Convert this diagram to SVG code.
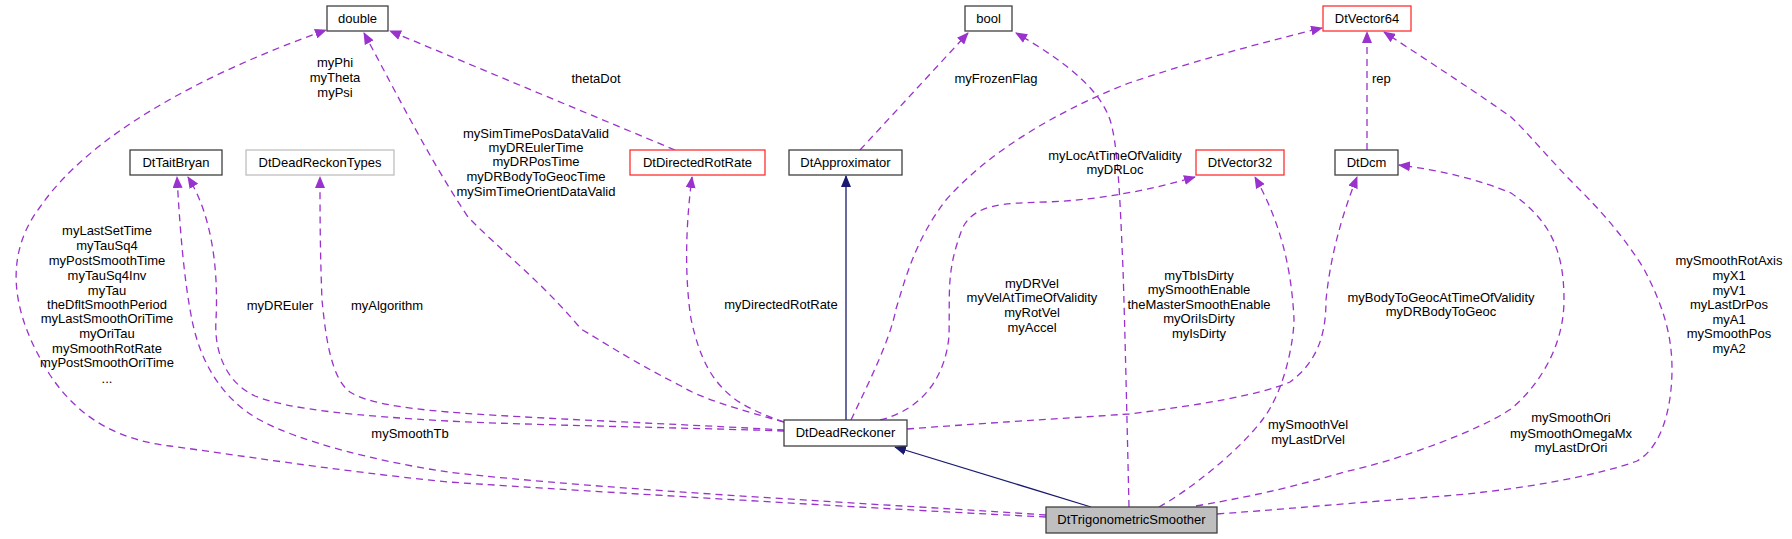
<svg xmlns="http://www.w3.org/2000/svg" width="1792" height="539" viewBox="0 0 1792 539">
<style>
text{font-family:"Liberation Sans",Arial,sans-serif;font-size:13px;fill:#000}
.n text{text-anchor:middle}
.box{fill:#fff;stroke:#404040;stroke-width:1.3}
.red{fill:#fff;stroke:#ff3030;stroke-width:1.3}
.gray{fill:#fff;stroke:#bfbfbf;stroke-width:1.3}
.cur{fill:#bfbfbf;stroke:#404040;stroke-width:1.3}
.e{fill:none;stroke:#9a32cd;stroke-width:1.3;stroke-dasharray:7,5;marker-end:url(#ap)}
.i{fill:none;stroke:#191970;stroke-width:1.3;marker-end:url(#ab)}
.l{text-anchor:middle}
</style>
<defs>
<marker id="ap" viewBox="0 0 12 10" refX="11" refY="5" markerWidth="12" markerHeight="10" markerUnits="userSpaceOnUse" orient="auto"><path d="M0,0 L12,5 L0,10 z" fill="#9a32cd"/></marker>
<marker id="ab" viewBox="0 0 12 10" refX="11" refY="5" markerWidth="12" markerHeight="10" markerUnits="userSpaceOnUse" orient="auto"><path d="M0,0 L12,5 L0,10 z" fill="#191970"/></marker>
</defs>
<rect width="1792" height="539" fill="#fff"/>
<g id="edges">
<path class="e" d="M1046,517 C900,510 600,492 448,482 C330,470 230,454 170,446 C120,440 80,420 50,375 C15,320 0,260 40,207 C90,135 200,75 326,30"/>
<path class="e" d="M1046,515 C900,505 600,490 448,472 C380,462 300,442 260,420 C220,398 200,360 192,320 C184,280 180,230 177,177"/>
<path class="e" d="M784,431 C700,428 520,425 448,421 C360,416 290,410 255,396 C225,382 214,350 216,320 C218,280 215,220 188,177"/>
<path class="e" d="M784,430 C700,425 520,418 448,412 C400,408 365,402 350,392 C330,378 325,330 322,300 C320,250 320,210 320,177"/>
<path class="e" d="M784,422 C740,410 700,398 681,386 C630,360 600,340 581,329 C540,280 500,250 468,217 C430,160 400,100 364,33"/>
<path class="e" d="M675,150 L390,31"/>
<path class="e" d="M784,422 C760,414 740,404 731,396 C712,380 700,360 691,319 C685,280 685,230 692,177"/>
<path class="i" d="M846,420 L846,176"/>
<path class="i" d="M1091,507 L895,447"/>
<path class="e" d="M860,150 L968,33"/>
<path class="e" d="M1129,507 C1127,420 1125,330 1123,269 C1120,200 1118,140 1109,117 C1100,95 1080,70 1016,33"/>
<path class="e" d="M851,420 C870,380 890,340 896,309 C905,280 915,240 946,200 C990,150 1060,110 1129,83 C1180,66 1250,45 1322,28"/>
<path class="e" d="M880,420 C920,410 945,380 949,336 C950,290 946,270 963,227 C975,205 1000,203 1046,202 C1100,200 1150,190 1195,177"/>
<path class="e" d="M1159,507 C1190,490 1240,450 1263,419 C1285,390 1294,340 1294,319 C1292,280 1285,230 1255,177"/>
<path class="e" d="M907,429 C1000,422 1100,416 1129,414 C1200,405 1260,395 1290,382 C1320,360 1326,330 1326,300 C1330,260 1340,220 1357,177"/>
<path class="e" d="M1196,506 C1260,495 1300,485 1344,472 C1400,460 1480,430 1511,409 C1545,380 1564,340 1564,300 C1564,250 1550,220 1511,193 C1480,180 1440,170 1399,165"/>
<path class="e" d="M1217,514 C1300,508 1350,503 1444,496 C1520,490 1600,475 1637,461 C1665,445 1672,400 1672,369 C1672,330 1660,300 1644,269 C1620,230 1590,200 1577,187 C1550,160 1530,135 1511,117 C1480,95 1430,62 1384,32"/>
<path class="e" d="M1367,150 L1367,32"/>
</g>
<g id="labels">
<text class="l" x="335" y="67">myPhi</text>
<text class="l" x="335" y="82">myTheta</text>
<text class="l" x="335" y="97">myPsi</text>
<text class="l" x="596" y="83">thetaDot</text>
<text class="l" x="996" y="83">myFrozenFlag</text>
<text x="1372" y="83">rep</text>
<text class="l" x="536" y="138">mySimTimePosDataValid</text>
<text class="l" x="536" y="152">myDREulerTime</text>
<text class="l" x="536" y="166">myDRPosTime</text>
<text class="l" x="536" y="181">myDRBodyToGeocTime</text>
<text class="l" x="536" y="196">mySimTimeOrientDataValid</text>
<text class="l" x="1115" y="160">myLocAtTimeOfValidity</text>
<text class="l" x="1115" y="174">myDRLoc</text>
<text class="l" x="107" y="235">myLastSetTime</text>
<text class="l" x="107" y="250">myTauSq4</text>
<text class="l" x="107" y="265">myPostSmoothTime</text>
<text class="l" x="107" y="280">myTauSq4Inv</text>
<text class="l" x="107" y="295">myTau</text>
<text class="l" x="107" y="309">theDfltSmoothPeriod</text>
<text class="l" x="107" y="323">myLastSmoothOriTime</text>
<text class="l" x="107" y="338">myOriTau</text>
<text class="l" x="107" y="353">mySmoothRotRate</text>
<text class="l" x="107" y="367">myPostSmoothOriTime</text>
<text class="l" x="107" y="383">...</text>
<text class="l" x="280" y="310">myDREuler</text>
<text class="l" x="387" y="310">myAlgorithm</text>
<text class="l" x="410" y="438">mySmoothTb</text>
<text class="l" x="781" y="309">myDirectedRotRate</text>
<text class="l" x="1032" y="288">myDRVel</text>
<text class="l" x="1032" y="302">myVelAtTimeOfValidity</text>
<text class="l" x="1032" y="317">myRotVel</text>
<text class="l" x="1032" y="332">myAccel</text>
<text class="l" x="1199" y="280">myTbIsDirty</text>
<text class="l" x="1199" y="294">mySmoothEnable</text>
<text class="l" x="1199" y="309">theMasterSmoothEnable</text>
<text class="l" x="1199" y="323">myOriIsDirty</text>
<text class="l" x="1199" y="338">myIsDirty</text>
<text class="l" x="1308" y="429">mySmoothVel</text>
<text class="l" x="1308" y="444">myLastDrVel</text>
<text class="l" x="1441" y="302">myBodyToGeocAtTimeOfValidity</text>
<text class="l" x="1441" y="316">myDRBodyToGeoc</text>
<text class="l" x="1571" y="422">mySmoothOri</text>
<text class="l" x="1571" y="438">mySmoothOmegaMx</text>
<text class="l" x="1571" y="452">myLastDrOri</text>
<text class="l" x="1729" y="265">mySmoothRotAxis</text>
<text class="l" x="1729" y="280">myX1</text>
<text class="l" x="1729" y="295">myV1</text>
<text class="l" x="1729" y="309">myLastDrPos</text>
<text class="l" x="1729" y="324">myA1</text>
<text class="l" x="1729" y="338">mySmoothPos</text>
<text class="l" x="1729" y="353">myA2</text>
</g>
<g id="double" class="n"><rect class="box" x="327" y="6" width="61" height="25"/><text x="357.5" y="23">double</text></g>
<g id="bool" class="n"><rect class="box" x="965" y="6" width="47" height="25"/><text x="988.5" y="23">bool</text></g>
<g id="DtVector64" class="n"><rect class="red" x="1323" y="6" width="88" height="25"/><text x="1367" y="23">DtVector64</text></g>
<g id="DtTaitBryan" class="n"><rect class="box" x="130" y="150" width="92" height="25"/><text x="176" y="167">DtTaitBryan</text></g>
<g id="DtDeadReckonTypes" class="n"><rect class="gray" x="246" y="150" width="148" height="25"/><text x="320" y="167">DtDeadReckonTypes</text></g>
<g id="DtDirectedRotRate" class="n"><rect class="red" x="630" y="150" width="135" height="25"/><text x="697.5" y="167">DtDirectedRotRate</text></g>
<g id="DtApproximator" class="n"><rect class="box" x="789" y="150" width="113" height="25"/><text x="845.5" y="167">DtApproximator</text></g>
<g id="DtVector32" class="n"><rect class="red" x="1196" y="150" width="88" height="25"/><text x="1240" y="167">DtVector32</text></g>
<g id="DtDcm" class="n"><rect class="box" x="1335" y="150" width="63" height="25"/><text x="1366.5" y="167">DtDcm</text></g>
<g id="DtDeadReckoner" class="n"><rect class="box" x="784" y="420" width="123" height="26"/><text x="845.5" y="437">DtDeadReckoner</text></g>
<g id="DtTrigonometricSmoother" class="n"><rect class="cur" x="1046" y="507" width="171" height="26"/><text x="1131.5" y="524">DtTrigonometricSmoother</text></g>
</svg>
